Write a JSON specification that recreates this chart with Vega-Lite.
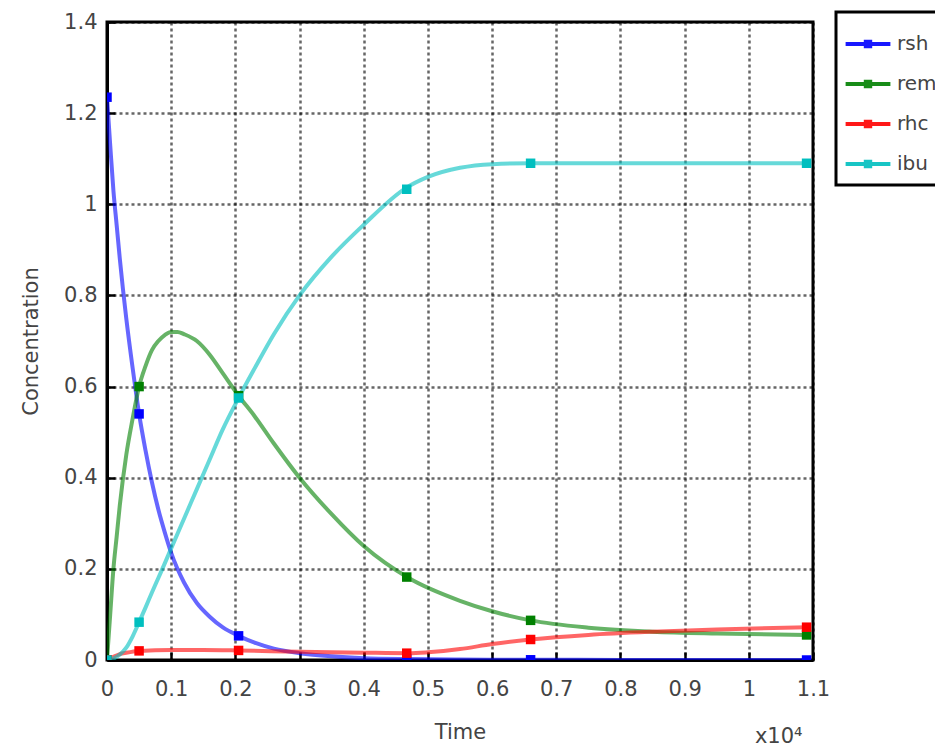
{
  "$schema": "https://vega.github.io/schema/vega-lite/v6.json",
  "width": 706,
  "height": 638,
  "autosize": {"type": "none"},
  "padding": {"left": 107, "top": 22, "right": 122, "bottom": 92},
  "background": "white",
  "title": {"text": "x10⁴", "orient": "bottom", "anchor": "end", "dx": -146, "dy": -20, "fontSize": 21, "font": "DejaVu Sans", "fontWeight": "normal", "color": "#444"},
  "datasets": {
    "curve": [
      {"t":0,"c":1.235,"s":"rsh"},{"t":0.005,"c":1.13,"s":"rsh"},{"t":0.01,"c":1.03,"s":"rsh"},{"t":0.015,"c":0.955,"s":"rsh"},{"t":0.02,"c":0.88,"s":"rsh"},{"t":0.03,"c":0.75,"s":"rsh"},{"t":0.04,"c":0.64,"s":"rsh"},{"t":0.05,"c":0.54,"s":"rsh"},{"t":0.06,"c":0.46,"s":"rsh"},{"t":0.07,"c":0.39,"s":"rsh"},{"t":0.08,"c":0.33,"s":"rsh"},{"t":0.09,"c":0.28,"s":"rsh"},{"t":0.1,"c":0.235,"s":"rsh"},{"t":0.12,"c":0.17,"s":"rsh"},{"t":0.14,"c":0.125,"s":"rsh"},{"t":0.16,"c":0.095,"s":"rsh"},{"t":0.18,"c":0.072,"s":"rsh"},{"t":0.205,"c":0.053,"s":"rsh"},{"t":0.23,"c":0.038,"s":"rsh"},{"t":0.26,"c":0.025,"s":"rsh"},{"t":0.3,"c":0.015,"s":"rsh"},{"t":0.35,"c":0.008,"s":"rsh"},{"t":0.4,"c":0.004,"s":"rsh"},{"t":0.47,"c":0.002,"s":"rsh"},{"t":0.55,"c":0.001,"s":"rsh"},{"t":0.66,"c":0.0005,"s":"rsh"},{"t":0.8,"c":0.0002,"s":"rsh"},{"t":0.95,"c":0.0001,"s":"rsh"},{"t":1.09,"c":0,"s":"rsh"},
      {"t":0,"c":0,"s":"rem"},{"t":0.005,"c":0.1,"s":"rem"},{"t":0.01,"c":0.2,"s":"rem"},{"t":0.015,"c":0.27,"s":"rem"},{"t":0.02,"c":0.34,"s":"rem"},{"t":0.03,"c":0.45,"s":"rem"},{"t":0.04,"c":0.53,"s":"rem"},{"t":0.05,"c":0.6,"s":"rem"},{"t":0.06,"c":0.645,"s":"rem"},{"t":0.07,"c":0.68,"s":"rem"},{"t":0.08,"c":0.7,"s":"rem"},{"t":0.09,"c":0.713,"s":"rem"},{"t":0.1,"c":0.72,"s":"rem"},{"t":0.11,"c":0.72,"s":"rem"},{"t":0.12,"c":0.715,"s":"rem"},{"t":0.14,"c":0.7,"s":"rem"},{"t":0.16,"c":0.67,"s":"rem"},{"t":0.18,"c":0.63,"s":"rem"},{"t":0.205,"c":0.58,"s":"rem"},{"t":0.23,"c":0.535,"s":"rem"},{"t":0.26,"c":0.475,"s":"rem"},{"t":0.3,"c":0.4,"s":"rem"},{"t":0.35,"c":0.32,"s":"rem"},{"t":0.4,"c":0.25,"s":"rem"},{"t":0.47,"c":0.18,"s":"rem"},{"t":0.55,"c":0.13,"s":"rem"},{"t":0.6,"c":0.107,"s":"rem"},{"t":0.66,"c":0.087,"s":"rem"},{"t":0.75,"c":0.071,"s":"rem"},{"t":0.85,"c":0.062,"s":"rem"},{"t":0.95,"c":0.058,"s":"rem"},{"t":1.09,"c":0.055,"s":"rem"},
      {"t":0,"c":0,"s":"rhc"},{"t":0.01,"c":0.007,"s":"rhc"},{"t":0.02,"c":0.013,"s":"rhc"},{"t":0.03,"c":0.016,"s":"rhc"},{"t":0.05,"c":0.02,"s":"rhc"},{"t":0.1,"c":0.022,"s":"rhc"},{"t":0.15,"c":0.022,"s":"rhc"},{"t":0.205,"c":0.021,"s":"rhc"},{"t":0.3,"c":0.018,"s":"rhc"},{"t":0.4,"c":0.016,"s":"rhc"},{"t":0.47,"c":0.015,"s":"rhc"},{"t":0.5,"c":0.017,"s":"rhc"},{"t":0.55,"c":0.024,"s":"rhc"},{"t":0.6,"c":0.035,"s":"rhc"},{"t":0.66,"c":0.045,"s":"rhc"},{"t":0.75,"c":0.055,"s":"rhc"},{"t":0.85,"c":0.062,"s":"rhc"},{"t":0.95,"c":0.067,"s":"rhc"},{"t":1.09,"c":0.072,"s":"rhc"},
      {"t":0,"c":0,"s":"ibu"},{"t":0.01,"c":0.003,"s":"ibu"},{"t":0.02,"c":0.012,"s":"ibu"},{"t":0.03,"c":0.027,"s":"ibu"},{"t":0.04,"c":0.052,"s":"ibu"},{"t":0.05,"c":0.083,"s":"ibu"},{"t":0.06,"c":0.115,"s":"ibu"},{"t":0.07,"c":0.148,"s":"ibu"},{"t":0.08,"c":0.18,"s":"ibu"},{"t":0.09,"c":0.212,"s":"ibu"},{"t":0.1,"c":0.245,"s":"ibu"},{"t":0.12,"c":0.31,"s":"ibu"},{"t":0.14,"c":0.375,"s":"ibu"},{"t":0.16,"c":0.44,"s":"ibu"},{"t":0.18,"c":0.505,"s":"ibu"},{"t":0.205,"c":0.575,"s":"ibu"},{"t":0.23,"c":0.64,"s":"ibu"},{"t":0.26,"c":0.715,"s":"ibu"},{"t":0.3,"c":0.8,"s":"ibu"},{"t":0.35,"c":0.885,"s":"ibu"},{"t":0.4,"c":0.955,"s":"ibu"},{"t":0.465,"c":1.035,"s":"ibu"},{"t":0.5,"c":1.06,"s":"ibu"},{"t":0.55,"c":1.08,"s":"ibu"},{"t":0.6,"c":1.088,"s":"ibu"},{"t":0.66,"c":1.09,"s":"ibu"},{"t":0.8,"c":1.09,"s":"ibu"},{"t":0.95,"c":1.09,"s":"ibu"},{"t":1.09,"c":1.09,"s":"ibu"}
    ],
    "samples": [
      {"t":0,"c":1.235,"s":"rsh"},{"t":0.05,"c":0.54,"s":"rsh"},{"t":0.205,"c":0.053,"s":"rsh"},{"t":0.467,"c":0.002,"s":"rsh"},{"t":0.66,"c":0.0005,"s":"rsh"},{"t":1.09,"c":0,"s":"rsh"},
      {"t":0,"c":0,"s":"rem"},{"t":0.05,"c":0.6,"s":"rem"},{"t":0.205,"c":0.58,"s":"rem"},{"t":0.467,"c":0.182,"s":"rem"},{"t":0.66,"c":0.087,"s":"rem"},{"t":1.09,"c":0.055,"s":"rem"},
      {"t":0,"c":0,"s":"rhc"},{"t":0.05,"c":0.02,"s":"rhc"},{"t":0.205,"c":0.021,"s":"rhc"},{"t":0.467,"c":0.015,"s":"rhc"},{"t":0.66,"c":0.045,"s":"rhc"},{"t":1.09,"c":0.072,"s":"rhc"},
      {"t":0,"c":0,"s":"ibu"},{"t":0.05,"c":0.083,"s":"ibu"},{"t":0.205,"c":0.575,"s":"ibu"},{"t":0.467,"c":1.033,"s":"ibu"},{"t":0.66,"c":1.09,"s":"ibu"},{"t":1.09,"c":1.09,"s":"ibu"}
    ]
  },
  "encoding": {
    "x": {"field": "t", "type": "quantitative", "title": "Time",
      "scale": {"domain": [0, 1.1], "nice": false, "zero": false},
      "axis": {"values": [0,0.1,0.2,0.3,0.4,0.5,0.6,0.7,0.8,0.9,1,1.1], "format": "~g", "labelFlush": false, "labelPadding": 26, "titlePadding": 22}},
    "y": {"field": "c", "type": "quantitative", "title": "Concentration",
      "scale": {"domain": [0, 1.4], "nice": false},
      "axis": {"values": [0,0.2,0.4,0.6,0.8,1,1.2,1.4], "format": "~g", "labelFlush": false, "labelPadding": 18, "titlePadding": 22}},
    "color": {"field": "s", "type": "nominal",
      "scale": {"domain": ["rsh","rem","rhc","ibu"], "range": ["#0000ff","#008000","#ff0000","#00bfbf"]},
      "legend": {"title": null, "orient": "none", "legendX": 729, "legendY": -10,
        "symbolType": "M-1.12,0L1.12,0M-0.11,-0.11L0.11,-0.11L0.11,0.11L-0.11,0.11Z",
        "symbolSize": 1600, "symbolStrokeWidth": 4, "symbolOpacity": 0.9,
        "labelFontSize": 20, "labelFont": "DejaVu Sans", "labelColor": "#444", "labelOffset": 7,
        "rowPadding": 7, "padding": 10, "strokeColor": "#000", "fillColor": "white",
        "encode": {"legend": {"update": {"strokeWidth": {"value": 3}}}}}}
  },
  "layer": [
    {"data": {"name": "curve"}, "mark": {"type": "line", "strokeWidth": 4, "opacity": 0.6, "interpolate": "monotone", "clip": true}},
    {"data": {"name": "samples"}, "mark": {"type": "point", "shape": "square", "filled": true, "size": 90, "opacity": 1, "clip": true}}
  ],
  "config": {
    "view": {"stroke": "#000", "strokeWidth": 3},
    "axis": {
      "domainColor": "#000", "domainWidth": 3,
      "grid": true, "gridColor": "#000", "gridOpacity": 0.6, "gridWidth": 2.5, "gridDash": [3, 3],
      "tickColor": "#000", "tickSize": -8, "tickWidth": 2.5,
      "labelFontSize": 21, "labelFont": "DejaVu Sans", "labelColor": "#444",
      "titleFontSize": 21, "titleFont": "DejaVu Sans", "titleFontWeight": "normal", "titleColor": "#444"
    }
  }
}
